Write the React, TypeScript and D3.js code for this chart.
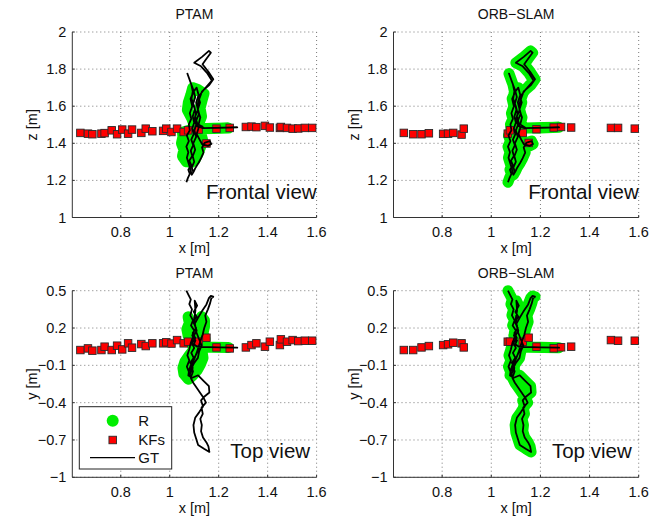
import React from 'react';
import * as d3 from 'd3';

// ---------- axis ticks ----------
const xTicks = [0.8, 1, 1.2, 1.4, 1.6];
const xTickLabels = ['0.8', '1', '1.2', '1.4', '1.6'];
const zTicks = [1, 1.2, 1.4, 1.6, 1.8, 2];
const zTickLabels = ['1', '1.2', '1.4', '1.6', '1.8', '2'];
const yTicks = [-1, -0.7, -0.4, -0.1, 0.2, 0.5];
const yTickLabels = ['\u22121', '\u22120.7', '\u22120.4', '\u22120.1', '0.2', '0.5'];

const methodNames = ['PTAM', 'ORB\u2212SLAM'];
const viewNames = ['Frontal view', 'Top view'];
const legendLabels = ['R', 'KFs', 'GT'];

// ---------- ground truth (frontal view: x, z) ----------
const gtFrontX = [1.068, 1.074, 1.082, 1.076, 1.088, 1.080, 1.092, 1.086, 1.096, 1.088, 1.098, 1.092, 1.100, 1.094, 1.102, 1.096, 1.104, 1.096, 1.084, 1.072,
  1.078, 1.088, 1.094, 1.089, 1.100, 1.107, 1.100, 1.112, 1.135, 1.200, 1.276, 1.210, 1.140, 1.118, 1.125, 1.114, 1.124, 1.117, 1.140, 1.172,
  1.152, 1.128, 1.100, 1.132, 1.160, 1.168, 1.150, 1.134, 1.158, 1.178, 1.160, 1.132, 1.121, 1.112, 1.120, 1.108, 1.118, 1.110, 1.122, 1.132,
  1.156, 1.170, 1.164, 1.144, 1.132, 1.138, 1.128, 1.118, 1.106, 1.098, 1.090, 1.084, 1.077, 1.070, 1.076, 1.068, 1.078, 1.070, 1.082, 1.078,
  1.088, 1.082, 1.092, 1.085, 1.098, 1.110, 1.118, 1.108, 1.116, 1.104, 1.112, 1.100, 1.108, 1.096, 1.104, 1.094, 1.100, 1.090, 1.096];
const gtFrontZ = [1.190, 1.212, 1.235, 1.258, 1.282, 1.306, 1.332, 1.360, 1.390, 1.420, 1.450, 1.480, 1.512, 1.545, 1.580, 1.615, 1.650, 1.690, 1.732, 1.776,
  1.755, 1.718, 1.680, 1.640, 1.600, 1.560, 1.522, 1.492, 1.482, 1.483, 1.486, 1.485, 1.482, 1.502, 1.540, 1.580, 1.620, 1.650, 1.690, 1.738,
  1.780, 1.815, 1.834, 1.866, 1.898, 1.888, 1.856, 1.826, 1.786, 1.745, 1.712, 1.680, 1.640, 1.600, 1.560, 1.522, 1.482, 1.450, 1.420, 1.396,
  1.386, 1.396, 1.412, 1.404, 1.378, 1.350, 1.320, 1.295, 1.270, 1.248, 1.230, 1.262, 1.292, 1.322, 1.352, 1.382, 1.412, 1.442, 1.470, 1.502,
  1.532, 1.562, 1.600, 1.640, 1.680, 1.700, 1.660, 1.620, 1.580, 1.545, 1.510, 1.470, 1.435, 1.400, 1.365, 1.330, 1.300, 1.270, 1.245];

// ---------- ground truth (top view: x, y) ----------
const gtTopX = [1.068, 1.076, 1.086, 1.080, 1.091, 1.084, 1.095, 1.087, 1.100, 1.092, 1.105, 1.098, 1.112, 1.150, 1.210, 1.276, 1.200, 1.130, 1.116, 1.106,
  1.096, 1.086, 1.079, 1.076, 1.092, 1.116, 1.136, 1.160, 1.162, 1.142, 1.128, 1.136, 1.120, 1.104, 1.097, 1.100, 1.108, 1.116, 1.140, 1.162,
  1.158, 1.150, 1.136, 1.128, 1.131, 1.125, 1.135, 1.130, 1.148, 1.138, 1.124, 1.110, 1.096, 1.086, 1.095, 1.088, 1.100, 1.110, 1.118, 1.126,
  1.135, 1.141, 1.150, 1.145, 1.156, 1.165, 1.170, 1.178, 1.168, 1.160, 1.150, 1.130, 1.115, 1.101, 1.110, 1.096, 1.086, 1.080, 1.072, 1.080,
  1.070, 1.078, 1.090, 1.100, 1.115, 1.120, 1.130, 1.120, 1.110, 1.104, 1.100, 1.105, 1.102, 1.112, 1.098, 1.110, 1.096, 1.108, 1.094, 1.104,
  1.090, 1.100, 1.088, 1.098, 1.084, 1.094, 1.082, 1.090];
const gtTopY = [0.500, 0.468, 0.430, 0.392, 0.350, 0.302, 0.262, 0.220, 0.180, 0.140, 0.100, 0.070, 0.050, 0.046, 0.044, 0.042, 0.045, 0.048, 0.020, -0.020,
  -0.060, -0.100, -0.140, -0.182, -0.200, -0.180, -0.220, -0.268, -0.318, -0.350, -0.382, -0.430, -0.478, -0.522, -0.580, -0.640, -0.690, -0.740, -0.770, -0.796,
  -0.752, -0.720, -0.680, -0.630, -0.580, -0.530, -0.490, -0.440, -0.400, -0.360, -0.320, -0.280, -0.240, -0.200, -0.150, -0.100, -0.050, 0.000, 0.050, 0.100,
  0.150, 0.200, 0.250, 0.300, 0.350, 0.400, 0.440, 0.452, 0.458, 0.440, 0.390, 0.330, 0.280, 0.230, 0.180, 0.130, 0.080, 0.030, -0.020, -0.060,
  -0.110, -0.150, -0.120, -0.080, -0.040, 0.010, 0.060, 0.110, 0.160, 0.220, 0.280, 0.340, 0.420, 0.380, 0.330, 0.290, 0.250, 0.200, 0.160, 0.120,
  0.080, 0.040, 0.000, -0.040, -0.080, -0.120, -0.170, -0.210];

// ---------- PTAM reconstructed trajectory R ----------
const ptamRFrontX = [1.068, 1.052, 1.058, 1.048, 1.054, 1.052, 1.082, 1.120, 1.180, 1.240, 1.180, 1.120, 1.100, 1.088, 1.072, 1.076, 1.086, 1.094, 1.114, 1.140,
  1.132, 1.124, 1.130, 1.118, 1.126, 1.134, 1.126, 1.116, 1.104, 1.086, 1.078, 1.084, 1.074, 1.100, 1.106, 1.096];
const ptamRFrontZ = [1.300, 1.330, 1.365, 1.400, 1.435, 1.460, 1.472, 1.478, 1.480, 1.482, 1.481, 1.478, 1.500, 1.540, 1.580, 1.620, 1.660, 1.700, 1.690, 1.668,
  1.630, 1.590, 1.545, 1.505, 1.460, 1.420, 1.380, 1.345, 1.312, 1.295, 1.340, 1.390, 1.440, 1.440, 1.390, 1.340];
const ptamRTopX = [1.075, 1.080, 1.070, 1.075, 1.085, 1.092, 1.120, 1.180, 1.240, 1.170, 1.110, 1.095, 1.080, 1.062, 1.054, 1.058, 1.076, 1.095, 1.112, 1.126,
  1.136, 1.132, 1.138, 1.144, 1.136, 1.142, 1.142, 1.130, 1.115, 1.105, 1.100, 1.090, 1.100, 1.090, 1.100, 1.090, 1.100, 1.085];
const ptamRTopY = [0.290, 0.240, 0.190, 0.140, 0.100, 0.062, 0.048, 0.045, 0.044, 0.046, 0.050, 0.020, -0.020, -0.070, -0.120, -0.170, -0.212, -0.180, -0.140, -0.090,
  -0.040, 0.010, 0.060, 0.110, 0.160, 0.210, 0.262, 0.292, 0.250, 0.200, 0.140, 0.100, 0.050, 0.000, -0.050, -0.100, -0.150, -0.190];

// ---------- ORB-SLAM reconstructed trajectory R (coincides with GT) ----------
const orbRFrontX = gtFrontX;
const orbRFrontZ = gtFrontZ;
const orbRTopX = gtTopX;
const orbRTopY = gtTopY;

// ---------- keyframes ----------
const ptamKfX = [0.635, 0.666, 0.684, 0.721, 0.734, 0.763, 0.785, 0.806, 0.830, 0.846, 0.884, 0.902, 0.929, 0.973, 0.986, 1.007, 1.030, 1.057, 1.075, 1.118,
  1.150, 1.191, 1.245, 1.311, 1.334, 1.354, 1.389, 1.409, 1.450, 1.454, 1.479, 1.502, 1.525, 1.552, 1.582];
const ptamKfY = [0.023, 0.036, 0.018, 0.023, 0.050, 0.023, 0.058, 0.028, 0.077, 0.042, 0.071, 0.055, 0.077, 0.077, 0.085, 0.075, 0.103, 0.077, 0.090, 0.090,
  0.122, 0.044, 0.036, 0.044, 0.063, 0.077, 0.050, 0.090, 0.063, 0.109, 0.090, 0.103, 0.095, 0.098, 0.098];
const ptamKfZ = [1.456, 1.452, 1.449, 1.452, 1.455, 1.470, 1.449, 1.474, 1.452, 1.474, 1.456, 1.479, 1.465, 1.467, 1.479, 1.461, 1.479, 1.461, 1.470, 1.474,
  1.399, 1.479, 1.483, 1.488, 1.490, 1.487, 1.494, 1.485, 1.483, 1.488, 1.483, 1.479, 1.480, 1.483, 1.483];

const orbKfX = [0.644, 0.682, 0.716, 0.746, 0.804, 0.824, 0.845, 0.879, 0.888, 1.067, 1.076, 1.128, 1.152, 1.184, 1.254, 1.284, 1.325, 1.487, 1.516, 1.584];
const orbKfY = [0.023, 0.023, 0.044, 0.055, 0.063, 0.069, 0.082, 0.077, 0.044, 0.090, 0.090, 0.090, 0.122, 0.050, 0.037, 0.045, 0.050, 0.103, 0.098, 0.098];
const orbKfZ = [1.456, 1.449, 1.449, 1.454, 1.451, 1.452, 1.456, 1.447, 1.479, 1.452, 1.470, 1.456, 1.402, 1.476, 1.485, 1.488, 1.485, 1.483, 1.483, 1.479];

const FONT = 'Liberation Sans, Arial, Helvetica, sans-serif';

type PanelProps = {
  x0: number; x1: number; y0: number; y1: number;
  yDomain: [number, number]; yT: number[]; yTL: string[]; yName: string;
  title: string; note: string; noteDx: number;
  rx: number[]; ry: number[]; kx: number[]; ky: number[]; gx: number[]; gy: number[];
  legend?: boolean;
};

function Panel(p: PanelProps) {
  const x = d3.scaleLinear().domain([0.602, 1.6]).range([p.x0, p.x1]);
  const y = d3.scaleLinear().domain(p.yDomain).range([p.y1, p.y0]);
  const line = d3.line<[number, number]>().x(d => x(d[0])).y(d => y(d[1]));
  const rPts = p.rx.map((v, i) => [v, p.ry[i]] as [number, number]);
  const gPts = p.gx.map((v, i) => [v, p.gy[i]] as [number, number]);
  const cx = (p.x0 + p.x1) / 2;
  const cy = (p.y0 + p.y1) / 2;
  const grid = '#555';
  const sq = 7.5;
  const green = '#00ee00';
  return (
    <g>
      <defs>
        <clipPath id={`clip-${p.x0}-${p.y0}`}>
          <rect x={p.x0} y={p.y0 - 6} width={p.x1 - p.x0 + 6} height={p.y1 - p.y0 + 6} />
        </clipPath>
      </defs>
      {/* grid */}
      {xTicks.map(t => (
        <line key={'gx' + t} x1={x(t)} x2={x(t)} y1={p.y0} y2={p.y1} stroke={grid} strokeWidth={0.8} strokeDasharray="1 3" />
      ))}
      {p.yT.map(t => (
        <line key={'gy' + t} x1={p.x0} x2={p.x1} y1={y(t)} y2={y(t)} stroke={grid} strokeWidth={0.8} strokeDasharray="1 3" />
      ))}
      {/* axes */}
      <line x1={p.x0} x2={p.x0} y1={p.y0} y2={p.y1} stroke="#333" strokeWidth={1} />
      <line x1={p.x0} x2={p.x1} y1={p.y1} y2={p.y1} stroke="#333" strokeWidth={1} />
      {xTicks.map(t => (
        <line key={'tx' + t} x1={x(t)} x2={x(t)} y1={p.y1} y2={p.y1 - 2.5} stroke="#333" strokeWidth={1} />
      ))}
      {p.yT.map(t => (
        <line key={'ty' + t} x1={p.x0} x2={p.x0 + 2.5} y1={y(t)} y2={y(t)} stroke="#333" strokeWidth={1} />
      ))}
      {/* tick labels */}
      {xTicks.map((t, i) => (
        <text key={'lx' + t} x={x(t)} y={p.y1 + 19.5} textAnchor="middle" fontSize={14.5} fontFamily={FONT} fill="#111">{xTickLabels[i]}</text>
      ))}
      {p.yT.map((t, i) => (
        <text key={'ly' + t} x={p.x0 - 6} y={y(t) + 5} textAnchor="end" fontSize={14.5} fontFamily={FONT} fill="#111">{p.yTL[i]}</text>
      ))}
      <text x={cx} y={p.y1 + 35.5} textAnchor="middle" fontSize={14.5} fontFamily={FONT} fill="#111">x [m]</text>
      <text transform={`translate(${p.x0 - 35},${cy}) rotate(-90)`} textAnchor="middle" fontSize={14.5} fontFamily={FONT} fill="#111">{p.yName}</text>
      <text x={cx} y={p.y0 - 13} textAnchor="middle" fontSize={14} fontFamily={FONT} fill="#111">{p.title}</text>
      {/* data */}
      <g clipPath={`url(#clip-${p.x0}-${p.y0})`}>
        <path d={line(rPts) || ''} fill="none" stroke={green} strokeWidth={11} strokeLinejoin="round" strokeLinecap="round" />
        {p.kx.map((v, i) => (
          <rect key={'kf' + i} x={x(v) - sq / 2} y={y(p.ky[i]) - sq / 2} width={sq} height={sq} fill="#ff0000" stroke="#2a2a2a" strokeWidth={0.9} />
        ))}
        <path d={line(gPts) || ''} fill="none" stroke="#000" strokeWidth={1.8} strokeLinejoin="round" />
      </g>
      <text x={p.x1 - p.noteDx} y={p.y1 - 19} textAnchor="end" fontSize={20.5} fontFamily={FONT} fill="#111">{p.note}</text>
      {p.legend && (
        <g>
          <rect x={p.x0 + 7} y={p.y1 - 70.6} width={92.4} height={62.3} fill="#fff" stroke="#222" strokeWidth={1} />
          <circle cx={p.x0 + 40.4} cy={p.y1 - 56.6} r={6} fill={green} />
          <rect x={p.x0 + 40.4 - sq / 2} y={p.y1 - 37.3 - sq / 2} width={sq} height={sq} fill="#ff0000" stroke="#2a2a2a" strokeWidth={0.9} />
          <line x1={p.x0 + 17.7} x2={p.x0 + 62.7} y1={p.y1 - 19.6} y2={p.y1 - 19.6} stroke="#000" strokeWidth={1.3} />
          {legendLabels.map((l, i) => (
            <text key={l} x={p.x0 + 66} y={p.y1 - 56.6 + i * 18.5 + 5.5} fontSize={15} fontFamily={FONT} fill="#111">{l}</text>
          ))}
        </g>
      )}
    </g>
  );
}

export default function App() {
  const cols = [{ x0: 72.3, x1: 316.6 }, { x0: 393.5, x1: 638.7 }];
  const rows = [{ y0: 32, y1: 217.5 }, { y0: 290.7, y1: 477.3 }];
  return (
    <div style={{ position: 'absolute', left: 0, top: 0 }}>
      <svg width={667} height={521} style={{ display: 'block', background: '#fff' }}>
        <Panel {...cols[0]} {...rows[0]} yDomain={[1, 2]} yT={zTicks} yTL={zTickLabels} yName="z [m]"
          title={methodNames[0]} note={viewNames[0]} noteDx={0}
          rx={ptamRFrontX} ry={ptamRFrontZ} kx={ptamKfX} ky={ptamKfZ} gx={gtFrontX} gy={gtFrontZ} />
        <Panel {...cols[1]} {...rows[0]} yDomain={[1, 2]} yT={zTicks} yTL={zTickLabels} yName="z [m]"
          title={methodNames[1]} note={viewNames[0]} noteDx={0}
          rx={orbRFrontX} ry={orbRFrontZ} kx={orbKfX} ky={orbKfZ} gx={gtFrontX} gy={gtFrontZ} />
        <Panel {...cols[0]} {...rows[1]} yDomain={[-1, 0.5]} yT={yTicks} yTL={yTickLabels} yName="y [m]"
          title={methodNames[0]} note={viewNames[1]} noteDx={6.5}
          rx={ptamRTopX} ry={ptamRTopY} kx={ptamKfX} ky={ptamKfY} gx={gtTopX} gy={gtTopY} legend />
        <Panel {...cols[1]} {...rows[1]} yDomain={[-1, 0.5]} yT={yTicks} yTL={yTickLabels} yName="y [m]"
          title={methodNames[1]} note={viewNames[1]} noteDx={7}
          rx={orbRTopX} ry={orbRTopY} kx={orbKfX} ky={orbKfY} gx={gtTopX} gy={gtTopY} />
      </svg>
    </div>
  );
}
